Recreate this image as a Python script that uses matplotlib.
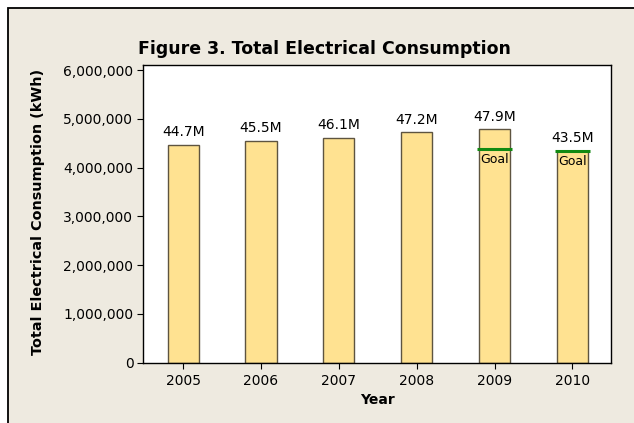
import numpy as np
import matplotlib.pyplot as plt
from matplotlib.patches import Rectangle
from matplotlib.ticker import FuncFormatter

# ---- data ----
years = ['2005', '2006', '2007', '2008', '2009', '2010']
consumption = [4.47e6, 4.55e6, 4.61e6, 4.72e6, 4.79e6, 4.35e6]
bar_labels = ['44.7M', '45.5M', '46.1M', '47.2M', '47.9M', '43.5M']
goal_years = [4, 5]            # index into years
goal_values = [4.38e6, 4.35e6]

bg = '#EEEAE0'
bar_face = '#FFE291'
bar_edge = '#5E5440'
goal_col = '#128A12'

plt.rcParams['font.family'] = 'DejaVu Sans'

fig = plt.figure(figsize=(6.34, 4.23), dpi=100, facecolor='white')

# beige panel with black border (top/left visible only)
fig.patches.append(Rectangle((8 / 634, -0.1), 1.1, 1 - 8 / 423 + 0.1,
                             transform=fig.transFigure, facecolor=bg,
                             edgecolor='black', linewidth=1.3, zorder=-5))

ax = fig.add_axes([142.7 / 634, 1 - 362.7 / 423, (611.3 - 142.7) / 634,
                   (362.7 - 65.5) / 423])
ax.set_zorder(2)
ax.set_facecolor('white')

x = np.arange(len(years))
ax.bar(x, consumption, width=0.40, color=bar_face, edgecolor=bar_edge,
       linewidth=1.0, zorder=2)

for xi, v, lab in zip(x, consumption, bar_labels):
    ax.annotate(lab, (xi, v), xytext=(0, 4), textcoords='offset points',
                ha='center', va='bottom', fontsize=10, color='black')

for gi, gv in zip(goal_years, goal_values):
    ax.hlines(gv, gi - 0.22, gi + 0.22, color=goal_col, linewidth=2.2, zorder=3)
    ax.annotate('Goal', (gi, gv), xytext=(0, -3), textcoords='offset points',
                ha='center', va='top', fontsize=9, color='black', zorder=4)

ax.set_xlim(-0.52, 5.5)
ax.set_ylim(0, 6.093e6)
ax.set_xticks(x)
ax.set_xticklabels(years)
ax.set_yticks(np.arange(0, 6.0e6 + 1, 1e6))
ax.yaxis.set_major_formatter(FuncFormatter(lambda v, p: f'{int(v):,}'))
ax.tick_params(axis='both', direction='out', length=4, width=0.8,
               labelsize=10, colors='black')
ax.tick_params(axis='y', pad=2.7)
ax.tick_params(axis='x', pad=4)
for s in ax.spines.values():
    s.set_linewidth(1.0)
    s.set_color('black')

ax.set_xlabel('Year', fontsize=10, fontweight='bold', labelpad=4)
fig.text(38 / 634, 1 - 212 / 423, 'Total Electrical Consumption (kWh)',
         rotation=90, ha='center', va='center', fontsize=10.4, fontweight='bold')
fig.text(324 / 634, 1 - 48.5 / 423, 'Figure 3. Total Electrical Consumption',
         ha='center', va='center', fontsize=12.5, fontweight='bold')

fig.savefig('out.png', dpi=100, facecolor='white')
